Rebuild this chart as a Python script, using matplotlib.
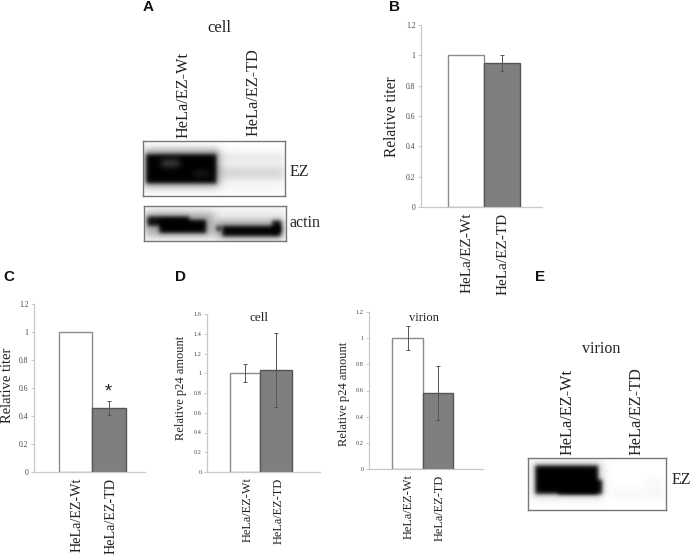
import numpy as np
import matplotlib
matplotlib.use("Agg")
import matplotlib.pyplot as plt

W, H = 691, 556
plt.rcParams['font.family'] = ['Liberation Serif']

# bar data
cats = ["HeLa/EZ-Wt", "HeLa/EZ-TD"]
titer_b = [1.0, 0.95]
titer_b_err = [0, 0.05]
titer_c = [1.0, 0.46]
titer_c_err = [0, 0.05]
p24_cell = [1.0, 1.03]
p24_cell_err = [0.09, 0.375]
p24_virion = [1.0, 0.58]
p24_virion_err = [0.09, 0.205]

# blot bands: x0, x1, y0, y1, darkness (pixels inside the blot frame)
ez_cell_bands = [(0, 76, 8, 45, 0.4), (3, 73, 13, 42, 1.0), (2, 142, 42, 50, 0.04),
                 (70, 142, 25, 38, 0.17), (70, 142, 12, 20, 0.11)]
ez_cell_holes = [(18, 36, 19, 25, 0.3), (50, 66, 30, 35, 0.12)]
actin_bands = [(0, 142, 0, 35, 0.05), (1, 70, 7, 30, 0.3), (72, 140, 14, 33, 0.3),
               (3, 45, 11, 20, 0.95), (15, 62, 14, 27, 1.0), (72, 77, 20, 25, 0.85),
               (78, 136, 20, 30, 1.0), (128, 137, 15, 27, 0.95)]
ez_virion_bands = [(3, 76, 3, 40, 0.12), (7, 70, 8, 36, 1.0), (30, 74, 22, 36, 0.95),
                   (85, 138, 33, 38, 0.05), (120, 135, 20, 30, 0.03)]

fig = plt.figure(figsize=(W / 100, H / 100), dpi=100)


def px_axes(x0, y_top, x1, y_bot):
    return fig.add_axes([x0 / W, 1 - y_bot / H, (x1 - x0) / W, (y_bot - y_top) / H])


def bar_panel(box, bars, vals, errs, ymax, ylabel, tick_fs, lab_fs, cat_fs, lab_x, lab_y, cat_dx):
    x0, y_top, x1, y_bot = box
    ax = px_axes(*box)
    ax.set_xlim(x0, x1)
    ax.set_ylim(0, ymax)
    ax.patch.set_alpha(0)
    lefts = bars[:-1]
    widths = np.diff(bars)
    ax.bar(lefts, vals, widths, align='edge', color=['white', '#7f7f7f'],
           edgecolor=['#8c8c8c', '#555555'], linewidth=1.0, zorder=2)
    mids = [l + w / 2 for l, w in zip(lefts, widths)]
    for m, v, e in zip(mids, vals, errs):
        if e > 0:
            ax.errorbar(m, v, yerr=e, color='#555555', lw=0.7, capsize=1.3, capthick=0.7, zorder=3)
    for s in ['top', 'right']:
        ax.spines[s].set_visible(False)
    for s in ['left', 'bottom']:
        ax.spines[s].set_color('#c8c8c8')
        ax.spines[s].set_linewidth(0.9)
    ticks = np.arange(0, ymax + 0.001, 0.2)
    ax.set_yticks(ticks)
    ax.set_yticklabels(["%g" % round(t, 1) for t in ticks], fontsize=tick_fs, color='#444444')
    ax.tick_params(axis='y', length=2, width=0.7, color='#c8c8c8', pad=2)
    ax.set_xticks([m + cat_dx for m in mids])
    ax.set_xticklabels(cats, rotation=90, fontsize=cat_fs, color='#222222')
    ax.tick_params(axis='x', length=0, pad=4)
    fig.text(lab_x / W, 1 - lab_y / H, ylabel, rotation=90, fontsize=lab_fs,
             ha='center', va='center', color='#222222')
    return ax


def blot(box, bands, holes=()):
    x0, y_top, x1, y_bot = box
    w, h = x1 - x0, y_bot - y_top
    xx, yy = np.meshgrid(np.arange(w * 2) / 2, np.arange(h * 2) / 2)
    img = np.zeros_like(xx)

    def soft(b, edge):
        bx0, bx1, by0, by1, d = b
        sx = 1 / (1 + np.exp((bx0 - xx) / edge)) * 1 / (1 + np.exp((xx - bx1) / edge))
        sy = 1 / (1 + np.exp((by0 - yy) / edge)) * 1 / (1 + np.exp((yy - by1) / edge))
        return d * sx * sy

    for b in bands:
        # strong bands get a tighter edge than the faint smears
        edge = 1.2 if b[4] > 0.5 else 2.5
        img = 1 - (1 - img) * (1 - soft(b, edge))
    for b in holes:
        img = img * (1 - soft(b, 2.0))
    ax = px_axes(*box)
    ax.imshow(1 - img, cmap='gray', vmin=0, vmax=1, extent=(0, w, h, 0), aspect='auto',
              interpolation='bilinear')
    ax.set_xticks([])
    ax.set_yticks([])
    for s in ax.spines.values():
        s.set_color('#777777')
        s.set_linewidth(1.0)
    return ax


def label(x, y, s, size=10.5, rot=0):
    fig.text(x / W, 1 - y / H, s, fontsize=size, rotation=rot, ha='center', va='center', color='#222222')


# chart panels
bar_panel((421, 25, 542, 207), [448, 484, 520], titer_b, titer_b_err, 1.2,
          "Relative titer", 5.5, 11.2, 11, 392, 117, 1)
axc = bar_panel((34, 304, 145, 472), [59, 92, 126], titer_c, titer_c_err, 1.2,
                "Relative titer", 5.5, 10.5, 10.2, 8, 385, 2)
axc.text(108.5, 0.57, "*", fontsize=13, ha='center', va='center', color='#222222', family='Liberation Sans')
bar_panel((207, 314, 320, 472), [230, 260, 292], p24_cell, p24_cell_err, 1.6,
          "Relative p24 amount", 4.5, 9, 8.8, 181, 388, 2.5)
bar_panel((369, 312, 483, 469), [392, 423, 453], p24_virion, p24_virion_err, 1.2,
          "Relative p24 amount", 4.5, 9, 8.8, 344, 394, 1.5)

# blots
blot((143, 141, 285, 196), ez_cell_bands, ez_cell_holes)
blot((144, 206, 286, 241), actin_bands)
blot((528, 458, 666, 510), ez_virion_bands)

# blot labels
label(219, 28, "cell", 12)
label(183, 95, cats[0], 11.7, 90)
label(253, 92, cats[1], 11.7, 90)
label(299, 172, "EZ", 11.5)
label(305, 223, "actin", 11.5)
label(601, 349, "virion", 11.5)
label(567, 412, cats[0], 11.7, 90)
label(636, 411, cats[1], 11.7, 90)
label(681, 480, "EZ", 11.5)
label(259, 318, "cell", 9.5)
label(424, 318, "virion", 9)

# panel letters
for s, x, y in [("A", 148, 7), ("B", 395, 7), ("C", 9, 277), ("D", 181, 277), ("E", 540, 277)]:
    fig.text(x / W, 1 - y / H, s, fontsize=11, fontweight='bold', family='Liberation Sans',
             ha='center', va='center', color='#111111')

fig.savefig("out.png", dpi=100)
